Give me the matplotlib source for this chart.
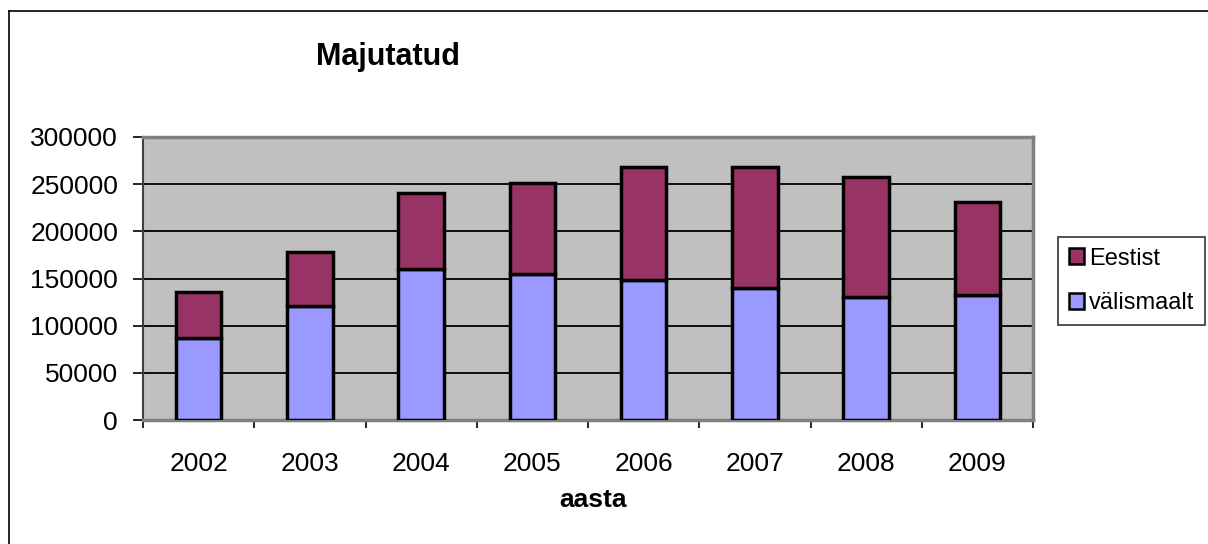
import matplotlib
matplotlib.use("Agg")
import matplotlib.pyplot as plt
from matplotlib.lines import Line2D
from matplotlib.patches import Patch

years = ["2002", "2003", "2004", "2005", "2006", "2007", "2008", "2009"]
valismaalt = [86400, 120400, 160000, 154700, 148700, 139500, 129900, 132700]
eestist = [49200, 57600, 80700, 96600, 119600, 128800, 127800, 98100]
yticks = [0, 50000, 100000, 150000, 200000, 250000, 300000]

plt.rcParams['font.family'] = ['Liberation Sans', 'DejaVu Sans']

W, H = 1208, 544
fig = plt.figure(figsize=(W / 100, H / 100), dpi=100)
fig.patch.set_facecolor("white")

# outer chart border (left and top visible)
fig.add_artist(Line2D([8.5 / W, 8.5 / W], [0, 1 - 10.5 / H], transform=fig.transFigure,
                      color="black", linewidth=1.2))
fig.add_artist(Line2D([8.5 / W, 1], [1 - 10.5 / H, 1 - 10.5 / H], transform=fig.transFigure,
                      color="black", linewidth=1.2))

x0, x1, y0, y1 = 143, 1033, 137, 420
ax = fig.add_axes([x0 / W, 1 - y1 / H, (x1 - x0) / W, (y1 - y0) / H])
ax.set_facecolor("#C0C0C0")

xs = list(range(len(years)))
ax.bar(xs, valismaalt, width=0.41, color="#9999FF", edgecolor="black", linewidth=2.5, zorder=3)
ax.bar(xs, eestist, bottom=valismaalt, width=0.41, color="#993366", edgecolor="black",
       linewidth=2.5, zorder=3)

ax.set_xlim(-0.5, len(years) - 0.5)
ax.set_ylim(0, 300000)
ax.set_yticks(yticks)
ax.set_yticklabels([str(v) for v in yticks], fontsize=19)
for v in yticks[1:-1]:
    ax.axhline(v, color="black", linewidth=1.3, zorder=1)

ax.set_xticks(xs)
ax.set_xticklabels(years, fontsize=19)
ax.tick_params(axis='x', length=0, pad=23)
ax.set_xticks([i - 0.5 for i in range(len(years) + 1)], minor=True)
ax.tick_params(axis='x', which='minor', length=6, width=1.2, direction='out', color="black")
ax.tick_params(axis='y', length=7, width=1.2, direction='out', pad=11, color="black")

for s in ["top", "right", "bottom"]:
    ax.spines[s].set_color("#808080")
    ax.spines[s].set_linewidth(2.5)
ax.spines["left"].set_color("#404040")
ax.spines["left"].set_linewidth(1.5)

fig.text(388 / W, 1 - 57 / H, "Majutatud", fontsize=22, fontweight="bold", ha="center", va="center")
fig.text(593 / W, 1 - 500 / H, "aasta", fontsize=19, fontweight="bold", ha="center", va="center")

handles = [Patch(facecolor="#993366", edgecolor="black", linewidth=1.8, label="Eestist"),
           Patch(facecolor="#9999FF", edgecolor="black", linewidth=1.8, label="välismaalt")]
leg = fig.legend(handles=handles, loc="upper left", bbox_to_anchor=(1058 / W, 1 - 237 / H),
                 fontsize=17, frameon=True, fancybox=False, handlelength=0.65, handleheight=0.65,
                 handletextpad=0.2, borderpad=0.45, labelspacing=0.95, borderaxespad=0)
leg.get_frame().set_edgecolor("black")
leg.get_frame().set_linewidth(1.2)

fig.savefig("out.png", dpi=100)
